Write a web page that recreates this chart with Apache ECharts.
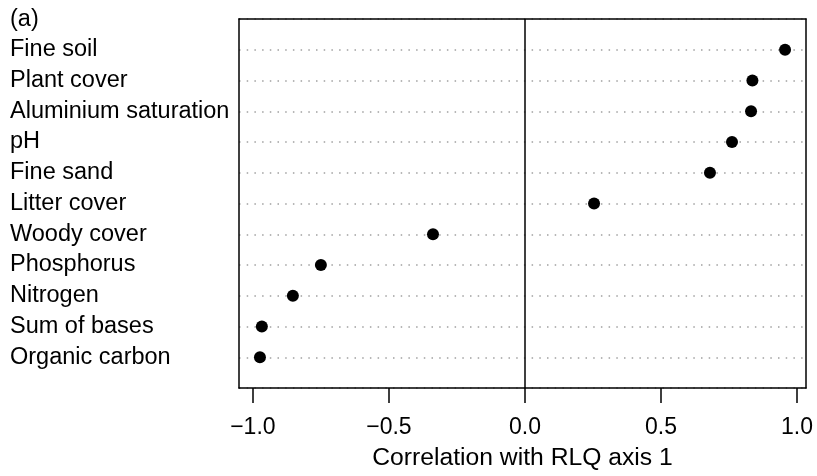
<!DOCTYPE html>
<html>
<head>
<meta charset="utf-8">
<script src="https://cdn.jsdelivr.net/npm/echarts@6/dist/echarts.min.js"></script>
<style>
  html, body { margin: 0; padding: 0; background: #fff; }
  #main { width: 817px; height: 476px; }
</style>
</head>
<body>
<div id="main"></div>
<script>
// variables, top to bottom as in the figure
const variables = ['Fine soil', 'Plant cover', 'Aluminium saturation', 'pH', 'Fine sand',
  'Litter cover', 'Woody cover', 'Phosphorus', 'Nitrogen', 'Sum of bases', 'Organic carbon']
const correlations = [0.956, 0.836, 0.831, 0.761, 0.68, 0.254, -0.338, -0.75, -0.853, -0.967, -0.974]
const xTicks = [-1.0, -0.5, 0.0, 0.5, 1.0]

const n = variables.length
const font = 'Liberation Sans, Arial, sans-serif'
const fs = 23.5

// first variable sits at the top row
const points = correlations.map((v, i) => [v, n - i])

const myChart = echarts.init(document.getElementById('main'))
myChart.setOption({
  animation: false,
  backgroundColor: '#fff',
  title: {
    text: '(a)',
    left: 5,
    top: 3,
    textStyle: { fontFamily: font, fontSize: fs, fontWeight: 'normal', color: '#000' }
  },
  grid: { left: 239, top: 19, width: 567, height: 374, show: false },
  xAxis: [
    {
      type: 'value',
      min: -1.051,
      max: 1.033,
      position: 'bottom',
      name: 'Correlation with RLQ axis 1',
      nameLocation: 'middle',
      nameGap: 58,
      nameTextStyle: { fontFamily: font, fontSize: 24.7, color: '#000' },
      axisLine: { show: true, onZero: false, lineStyle: { color: '#000', width: 1.5 } },
      axisTick: { show: false },
      axisLabel: { show: false },
      splitLine: { show: false }
    },
    {
      // separate axis carrying the R-style ticks/labels only at -1..1
      type: 'value',
      min: -1.051,
      max: 1.033,
      position: 'bottom',
      axisLine: { show: false },
      axisTick: {
        show: true,
        length: 15,
        lineStyle: { color: '#000', width: 1.5 },
        customValues: xTicks
      },
      axisLabel: {
        show: true,
        margin: 28,
        fontFamily: font,
        fontSize: 23,
        color: '#000',
        customValues: xTicks,
        formatter: v => (v < 0 ? '\u2212' : '') + Math.abs(v).toFixed(1)
      },
      splitLine: { show: false }
    },
    {
      type: 'value',
      min: -1.051,
      max: 1.033,
      position: 'top',
      axisLine: { show: true, onZero: false, lineStyle: { color: '#000', width: 1.5 } },
      axisTick: { show: false },
      axisLabel: { show: false },
      splitLine: { show: false }
    }
  ],
  yAxis: [
    {
      type: 'value',
      min: 0,
      max: n + 1,
      interval: 1,
      position: 'left',
      axisLine: { show: true, onZero: false, lineStyle: { color: '#000', width: 1.5 } },
      axisTick: { show: false },
      axisLabel: {
        show: true,
        align: 'left',
        margin: 229,
        fontFamily: font,
        fontSize: fs,
        color: '#000',
        formatter: v => (v >= 1 && v <= n ? variables[n - v] : '')
      },
      splitLine: {
        show: true,
        lineStyle: { color: '#a0a0a0', width: 1.5, type: [1.5, 6.2] }
      }
    },
    {
      type: 'value',
      min: 0,
      max: n + 1,
      position: 'right',
      axisLine: { show: true, onZero: false, lineStyle: { color: '#000', width: 1.5 } },
      axisTick: { show: false },
      axisLabel: { show: false },
      splitLine: { show: false }
    }
  ],
  series: [
    {
      type: 'scatter',
      xAxisIndex: 0,
      yAxisIndex: 0,
      data: points,
      symbol: 'circle',
      symbolSize: 12,
      itemStyle: { color: '#000', opacity: 1 },
      markLine: {
        silent: true,
        symbol: 'none',
        label: { show: false },
        lineStyle: { color: '#000', width: 1.5, type: 'solid' },
        data: [{ xAxis: 0 }]
      }
    }
  ]
})
</script>
</body>
</html>
